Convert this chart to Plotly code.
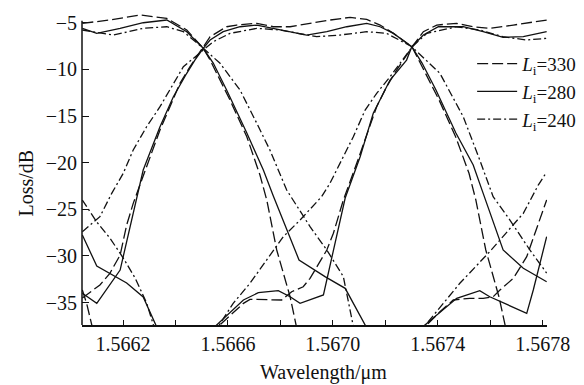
import plotly.graph_objects as go

# ---------------- data ----------------
# Li = 330 (long dash)
WL_330_CH1 = [1.566045, 1.566062, 1.566081, 1.566090]
LOSS_330_CH1 = [-33.65, -35.15, -37.40, -38.5]
WL_330_CH2 = [1.566045, 1.566150, 1.566265, 1.566367, 1.566443, 1.566505, 1.566532, 1.566608,
              1.566672, 1.566722, 1.566748, 1.566786, 1.566837, 1.566862, 1.566868]
LOSS_330_CH2 = [-5.06, -4.71, -4.17, -4.53, -5.78, -7.71, -9.00, -13.29,
                -17.22, -21.32, -24.00, -29.36, -34.37, -37.40, -38.5]
WL_330_CH3 = [1.566045, 1.566087, 1.566112, 1.566150, 1.566189, 1.566214, 1.566239, 1.566290,
              1.566341, 1.566379, 1.566417, 1.566455, 1.566505, 1.566532, 1.566595, 1.566633,
              1.566710, 1.566773, 1.566837, 1.566913, 1.566989, 1.567066, 1.567129, 1.567180,
              1.567231, 1.567302, 1.567328, 1.567405, 1.567468, 1.567519, 1.567545, 1.567583,
              1.567633, 1.567659, 1.567665]
LOSS_330_CH3 = [-34.51, -33.65, -33.11, -31.86, -29.90, -26.68, -24.36, -20.43,
                -16.50, -14.00, -11.50, -9.72, -7.71, -6.50, -5.43, -5.25,
                -5.06, -5.43, -5.43, -5.06, -4.71, -4.42, -4.64, -5.25,
                -6.14, -7.60, -9.00, -13.29, -17.22, -21.14, -24.00, -29.36,
                -34.37, -37.40, -38.5]
WL_330_CH4 = [1.566530, 1.566570, 1.566620, 1.566659, 1.566684, 1.566748, 1.566805, 1.566843,
              1.566887, 1.566913, 1.566977, 1.567002, 1.567040, 1.567091, 1.567123, 1.567167,
              1.567205, 1.567243, 1.567302, 1.567345, 1.567396, 1.567472, 1.567535, 1.567598,
              1.567688, 1.567815]
LOSS_330_CH4 = [-38.4, -37.40, -36.15, -35.08, -34.65, -34.72, -34.72, -33.83,
                -33.30, -32.40, -29.36, -27.57, -24.00, -20.07, -17.57, -14.00,
                -11.86, -10.07, -7.60, -5.96, -5.25, -5.06, -5.43, -5.60,
                -5.25, -4.71]
WL_330_CH5 = [1.567322, 1.567358, 1.567408, 1.567459, 1.567522, 1.567573, 1.567611, 1.567637,
              1.567688, 1.567739, 1.567790, 1.567815]
LOSS_330_CH5 = [-38.4, -37.40, -35.98, -34.72, -34.54, -34.54, -34.37, -33.65,
                -32.40, -30.08, -26.15, -24.00]

# Li = 280 (solid)
WL_280_CH1 = [1.566045, 1.566100, 1.566214, 1.566277, 1.566325, 1.566330]
LOSS_280_CH1 = [-27.75, -31.08, -32.90, -34.40, -37.40, -38.5]
WL_280_CH2 = [1.566045, 1.566100, 1.566189, 1.566277, 1.566367, 1.566443, 1.566505, 1.566544,
              1.566595, 1.566672, 1.566735, 1.566773, 1.566871, 1.566970, 1.567047, 1.567123,
              1.567128]
LOSS_280_CH2 = [-5.60, -6.14, -5.60, -5.00, -4.71, -5.96, -7.71, -9.32,
                -12.21, -16.82, -20.79, -23.57, -30.43, -32.22, -33.47, -37.40,
                -38.5]
WL_280_CH3 = [1.566045, 1.566100, 1.566189, 1.566201, 1.566258, 1.566277, 1.566341, 1.566392,
              1.566443, 1.566474, 1.566506, 1.566532, 1.566582, 1.566646, 1.566710, 1.566798,
              1.566900, 1.566977, 1.567053, 1.567129, 1.567180, 1.567231, 1.567301, 1.567340,
              1.567393, 1.567469, 1.567535, 1.567573, 1.567649, 1.567726, 1.567815]
LOSS_280_CH3 = [-34.00, -35.08, -31.51, -30.08, -22.93, -20.79, -16.15, -12.93,
                -10.42, -9.00, -7.74, -6.85, -5.96, -5.43, -5.25, -5.78,
                -6.32, -5.96, -5.43, -5.06, -5.43, -6.14, -7.57, -9.32,
                -12.21, -16.82, -20.25, -23.29, -29.36, -31.32, -32.76]
WL_280_CH4 = [1.566519, 1.566557, 1.566659, 1.566716, 1.566792, 1.566837, 1.566875, 1.566964,
              1.567047, 1.567104, 1.567154, 1.567218, 1.567281, 1.567301, 1.567345, 1.567402,
              1.567497, 1.567573, 1.567649, 1.567726, 1.567815]
LOSS_280_CH4 = [-38.4, -37.40, -34.72, -33.94, -33.72, -34.37, -35.08, -34.18,
                -23.79, -19.36, -14.71, -11.14, -9.00, -7.57, -6.32, -5.43,
                -5.43, -5.96, -6.56, -6.50, -5.96]
WL_280_CH5 = [1.567313, 1.567351, 1.567472, 1.567560, 1.567598, 1.567739, 1.567764, 1.567790,
              1.567815]
LOSS_280_CH5 = [-38.4, -37.40, -34.54, -33.72, -34.37, -36.15, -33.65, -30.79,
                -27.94]

# Li = 240 (dash-dot)
WL_240_CH1 = [1.566045, 1.566100, 1.566150, 1.566201, 1.566246, 1.566290, 1.566316, 1.566319]
LOSS_240_CH1 = [-24.00, -26.36, -28.08, -30.22, -32.36, -35.04, -37.40, -38.5]
WL_240_CH2 = [1.566045, 1.566163, 1.566277, 1.566367, 1.566430, 1.566505, 1.566570, 1.566646,
              1.566710, 1.566760, 1.566824, 1.566849, 1.566913, 1.566977, 1.567040, 1.567077,
              1.567080]
LOSS_240_CH2 = [-5.78, -6.32, -5.60, -5.43, -5.96, -7.71, -9.35, -12.21,
                -15.78, -18.64, -22.93, -24.00, -26.86, -29.36, -32.22, -37.40,
                -38.5]
WL_240_CH3 = [1.566045, 1.566112, 1.566157, 1.566201, 1.566239, 1.566290, 1.566341, 1.566392,
              1.566430, 1.566506, 1.566544, 1.566608, 1.566710, 1.566798, 1.566862, 1.566938,
              1.567027, 1.567129, 1.567205, 1.567301, 1.567408, 1.567497, 1.567560, 1.567611,
              1.567675, 1.567751, 1.567815]
LOSS_240_CH3 = [-27.40, -25.79, -23.29, -21.14, -18.64, -16.15, -14.00, -11.50,
                -9.72, -7.93, -7.04, -6.14, -5.60, -5.78, -6.14, -6.50,
                -6.32, -5.96, -6.14, -7.57, -10.42, -15.07, -19.72, -23.65,
                -26.15, -29.36, -31.83]
WL_240_CH4 = [1.566544, 1.566570, 1.566620, 1.566684, 1.566748, 1.566811, 1.566875, 1.566957,
              1.566989, 1.567034, 1.567078, 1.567123, 1.567167, 1.567218, 1.567256, 1.567302,
              1.567358, 1.567472, 1.567560, 1.567649, 1.567739, 1.567815]
LOSS_240_CH4 = [-38.4, -37.22, -35.08, -32.93, -30.43, -27.94, -26.15, -23.65,
                -22.21, -19.72, -17.22, -14.36, -12.57, -10.79, -9.35, -7.60,
                -6.14, -5.43, -5.78, -6.50, -6.85, -6.67]
WL_240_CH5 = [1.567324, 1.567358, 1.567484, 1.567598, 1.567726, 1.567783, 1.567815]
LOSS_240_CH5 = [-38.4, -37.22, -32.93, -29.54, -25.43, -22.40, -21.00]

SERIES_NAMES = ["330", "280", "240"]
X_TICKS = [1.5662, 1.5664, 1.5666, 1.5668, 1.5670, 1.5672, 1.5674, 1.5676, 1.5678]
X_TICK_TEXT = ["1.5662", "", "1.5666", "", "1.5670", "", "1.5674", "", "1.5678"]
Y_TICKS = [-35, -30, -25, -20, -15, -10, -5]
X_RANGE = [1.5660437, 1.5678163]
Y_RANGE = [-37.4, -3.85]

# ---------------- figure ----------------
FONT = "Liberation Serif"
styles = {
    "330": "11px,4px",
    "280": "solid",
    "240": "8px,3px,2px,3px",
}
groups = {
    "330": [(WL_330_CH1, LOSS_330_CH1), (WL_330_CH2, LOSS_330_CH2), (WL_330_CH3, LOSS_330_CH3),
            (WL_330_CH4, LOSS_330_CH4), (WL_330_CH5, LOSS_330_CH5)],
    "280": [(WL_280_CH1, LOSS_280_CH1), (WL_280_CH2, LOSS_280_CH2), (WL_280_CH3, LOSS_280_CH3),
            (WL_280_CH4, LOSS_280_CH4), (WL_280_CH5, LOSS_280_CH5)],
    "240": [(WL_240_CH1, LOSS_240_CH1), (WL_240_CH2, LOSS_240_CH2), (WL_240_CH3, LOSS_240_CH3),
            (WL_240_CH4, LOSS_240_CH4), (WL_240_CH5, LOSS_240_CH5)],
}

fig = go.Figure()
for name in SERIES_NAMES:
    for i, (xs, ys) in enumerate(groups[name]):
        fig.add_trace(go.Scatter(
            x=xs, y=ys, mode="lines",
            name="<i>L</i><sub>i</sub>=" + name,
            legendgroup=name, showlegend=(i == 0),
            line=dict(color="#111111", width=1.3, dash=styles[name]),
            hoverinfo="skip",
        ))

fig.update_layout(
    width=584, height=385,
    margin=dict(l=82, r=37, t=12, b=60, autoexpand=False),
    paper_bgcolor="white", plot_bgcolor="white",
    font=dict(family=FONT, size=20, color="#111111"),
    showlegend=True,
    legend=dict(x=0.839, y=0.895, xanchor="left", yanchor="top",
                bgcolor="rgba(0,0,0,0)", font=dict(family=FONT, size=19, color="#111111"),
                itemwidth=40, tracegroupgap=0),
    xaxis=dict(range=X_RANGE, tickvals=X_TICKS, ticktext=X_TICK_TEXT,
               ticks="inside", ticklen=5, tickwidth=1, tickcolor="#111111",
               showline=True, linecolor="#111111", linewidth=1.5,
               showgrid=False, zeroline=False,
               tickfont=dict(family=FONT, size=20, color="#111111")),
    yaxis=dict(range=Y_RANGE, tickvals=Y_TICKS,
               ticks="inside", ticklen=7, tickwidth=1, tickcolor="#111111",
               showline=False, showgrid=False, zeroline=False,
               ticklabelstandoff=4,
               tickfont=dict(family=FONT, size=20, color="#111111")),
    shapes=[dict(type="line", xref="paper", yref="y", x0=0, x1=0,
                 y0=Y_RANGE[0], y1=-4.8, line=dict(color="#111111", width=1.5))],
    annotations=[
        dict(text="Loss/dB", xref="paper", yref="paper", x=0, y=0.452,
             xshift=-56, textangle=-90, showarrow=False, xanchor="center", yanchor="middle",
             font=dict(family=FONT, size=20, color="#111111")),
        dict(text="Wavelength/μm", xref="paper", yref="paper", x=0.52, y=0,
             yshift=-47, showarrow=False, xanchor="center", yanchor="middle",
             font=dict(family=FONT, size=20, color="#111111")),
    ],
)

fig.write_html("out.html")
